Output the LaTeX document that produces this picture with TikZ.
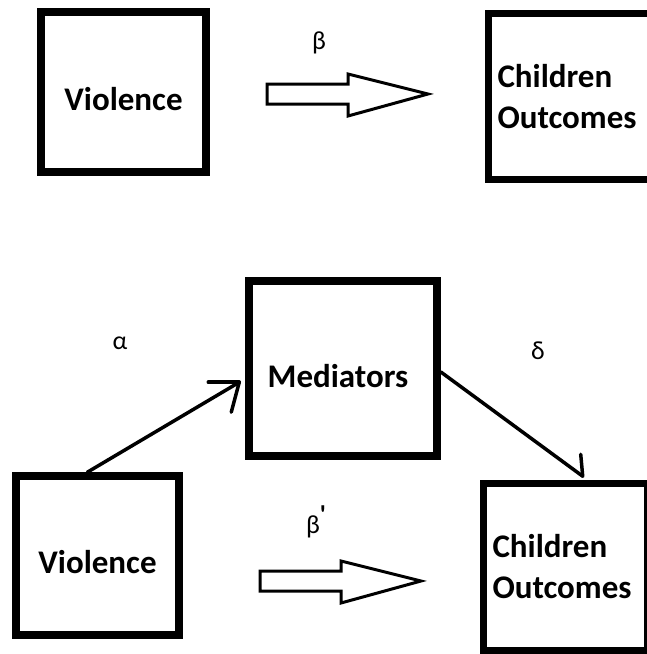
\documentclass[tikz,border=0pt]{standalone}
\usepackage{fontspec}
\setmainfont{Carlito}
\usetikzlibrary{calc}
\tikzset{
  box/.style={draw, line width=7.5pt, inner sep=0pt, font=\bfseries\fontsize{33}{41}\selectfont},
  cobox/.style={box, align=left, inner xsep=9pt},
  greek/.style={inner sep=0pt, font=\fontsize{26}{30}\selectfont},
  conn/.style={line width=3.5pt, line cap=round},
  blockarrow/.style={draw, line width=3pt, miter limit=10, fill=white},
}
\begin{document}
\begin{tikzpicture}[x=1pt,y=-1pt]
\useasboundingbox (0,0) rectangle (647,654);
\clip (0,0) rectangle (647,654);
\fill[white] (0,0) rectangle (647,654);

% top row
\node[box, minimum width=165pt, minimum height=160pt] (v1) at (123.5,92)
  {\raisebox{-7pt}[\height][\depth]{Violence}};
\node[cobox, minimum width=171.5pt, minimum height=166pt, text width=153.5pt] (co1) at (574.25,96.5)
  {Children\\Outcomes};
\node[greek] (beta) at (319,43) {β};
\draw[blockarrow] (267,84) -- (348,84) -- (348,74) -- (428,94) -- (348,116) -- (348,104) -- (267,104) -- cycle;

% bottom row
\node[box, minimum width=188pt, minimum height=175pt] (med) at (343,368.5)
  {\raisebox{-7.5pt}[\height][\depth]{\kern-10pt Mediators}};
\node[box, minimum width=163pt, minimum height=159pt] (v2) at (97.5,555.5)
  {\raisebox{-6.5pt}[\height][\depth]{Violence}};
\node[cobox, minimum width=164.5pt, minimum height=167pt, text width=146.5pt] (co2) at (565.75,567)
  {Children\\Outcomes};
\node[greek] (alpha) at (120,343) {α};
\node[greek] (delta) at (538,351) {δ};
\node[greek] (betap) at (316,522) {β\raisebox{0.4em}{\bfseries\textquotesingle}};
\begin{scope}[shift={(-7,487)}]
\draw[blockarrow] (267,84) -- (348,84) -- (348,74) -- (428,94) -- (348,116) -- (348,104) -- (267,104) -- cycle;
\end{scope}

% connectors
\coordinate (ta) at ($(med.188)+(-6,0)$);
\draw[conn] (v2.97.5) -- (ta);
\draw[conn] (ta) -- ++(-31,0);
\draw[conn] (ta) -- ++(-8,30);
\coordinate (td) at ($(co2.79)+(0,-3.5)$);
\draw[conn] (med.-2) -- (td);
\draw[conn] (td) -- ++(-2,-22);
\end{tikzpicture}
\end{document}
